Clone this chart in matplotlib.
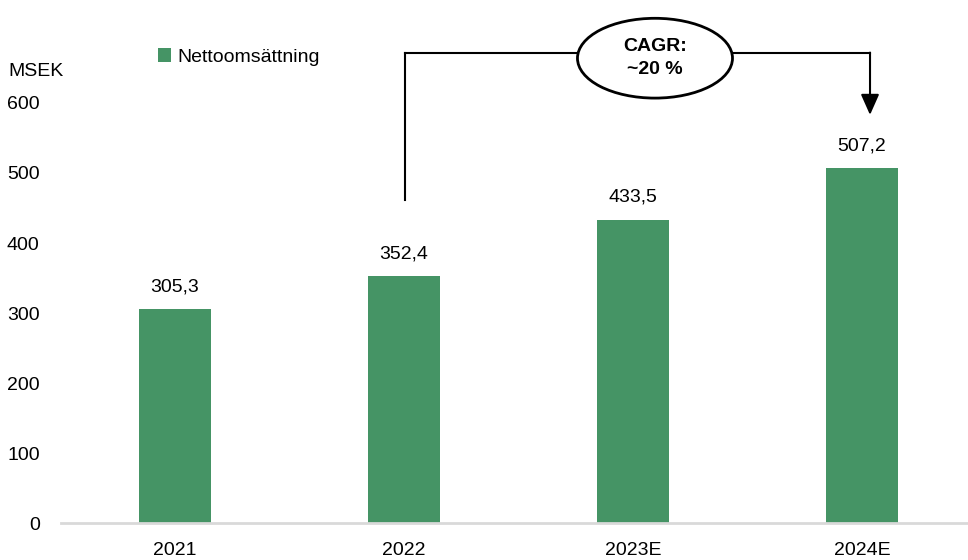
import matplotlib.pyplot as plt
from matplotlib.patches import Ellipse

years = ["2021", "2022", "2023E", "2024E"]
sales = [305.3, 352.4, 433.5, 507.2]
yticks = [0, 100, 200, 300, 400, 500, 600]

GREEN = "#459465"
plt.rcParams["font.family"] = ["Liberation Sans Narrow", "Liberation Sans", "DejaVu Sans"]
plt.rcParams["font.size"] = 14

fig = plt.figure(figsize=(9.68, 5.6), dpi=100)
ax = fig.add_axes([60.5 / 968, 37 / 560, 916 / 968, 420 / 560])

x = range(len(years))
bars = ax.bar(x, sales, width=0.315, color=GREEN, label="Nettoomsättning", zorder=2)
for xi, v in zip(x, sales):
    ax.annotate(f"{v:.1f}".replace(".", ","), (xi, v), xytext=(0, 10),
                textcoords="offset points", ha="center", va="bottom", fontsize=14)

ax.set_xlim(-0.5, 3.5)
ax.set_ylim(0, 600)
ax.set_xticks(list(x))
ax.set_xticklabels(years)
ax.set_yticks(yticks)
ax.tick_params(axis="both", length=0, labelsize=14)
ax.tick_params(axis="x", pad=14)
ax.tick_params(axis="y", pad=15)
for s in ["top", "right", "left"]:
    ax.spines[s].set_visible(False)
ax.spines["bottom"].set_color("#d9d9d9")
ax.spines["bottom"].set_linewidth(2)

fig.text(8 / 968, 1 - 72 / 560, "MSEK", fontsize=14, va="center", ha="left")

ax.legend(loc="center left", bbox_to_anchor=(140 / 968, 1 - 57 / 560),
          bbox_transform=fig.transFigure, frameon=False, fontsize=14,
          handlelength=0.7, handleheight=0.7, handletextpad=0.3)

# CAGR annotation
y_top = 671
x_left, x_right = 1.004, 3.035
ax.plot([x_left, x_left], [461, y_top], color="black", lw=1.5, clip_on=False, zorder=3)
ax.plot([x_left, x_right], [y_top, y_top], color="black", lw=1.5, clip_on=False, zorder=3)
ax.annotate("", xy=(x_right, 583), xytext=(x_right, y_top + 1),
            arrowprops=dict(arrowstyle="-|>,head_length=0.9,head_width=0.4",
                            color="black", lw=1.5, shrinkA=0, shrinkB=0),
            annotation_clip=False)
ell = Ellipse((2.096, 664), 0.677, 114, facecolor="white", edgecolor="black",
              lw=2, clip_on=False, zorder=4)
ax.add_patch(ell)
ax.text(2.096, 664, "CAGR:\n~20 %", ha="center", va="center", fontsize=14,
        fontweight="bold", linespacing=1.5, zorder=5, clip_on=False)

fig.savefig("out.png", dpi=100)
